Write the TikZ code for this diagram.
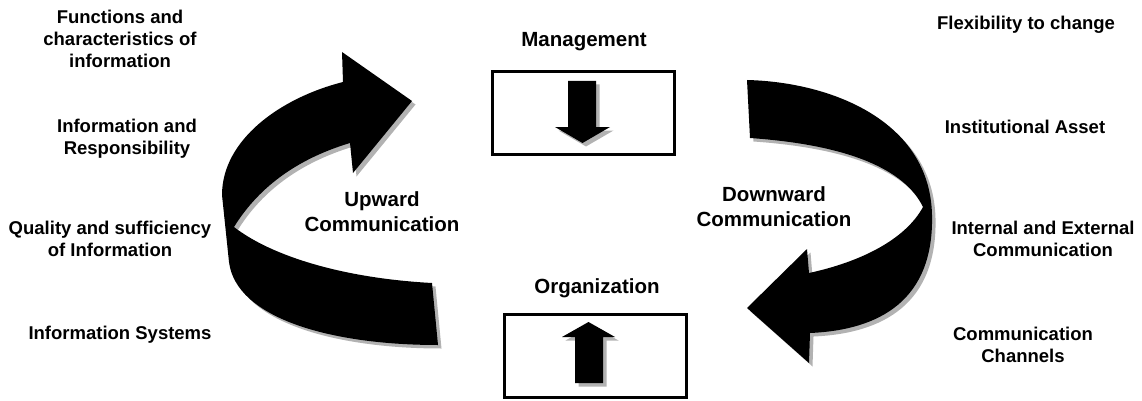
\documentclass[tikz,border=0pt]{standalone}
\usepackage{fontspec}
\setmainfont{Liberation Sans}
\usepackage{tikz}

\begin{document}
\begin{tikzpicture}[x=1pt,y=-1pt,
  item/.style={align=center,font=\fontsize{18.5}{22}\selectfont\bfseries},
  flow/.style={align=center,font=\fontsize{20.5}{25}\selectfont\bfseries},
  box/.style={draw,line width=3pt,minimum width=182pt,minimum height=83pt,inner sep=0pt}]
\useasboundingbox (0,0) rectangle (1142,401);

% left column
\node[item] (func) at (120,39) {Functions and\\characteristics of\\information};
\node[item] (resp) at (127,139) {Information and\\Responsibility};
\node[item] (qual) at (110,239) {Quality and sufficiency\\of Information};
\node[item] (isys) at (120,335) {Information Systems};

% right column
\node[item] (flex) at (1026,25) {Flexibility to change};
\node[item] (asset) at (1025,127) {Institutional Asset};
\node[item] (intext) at (1043,239) {Internal and External\\Communication};
\node[item] (chan) at (1023,345) {Communication\\Channels};

% middle
\node[flow,anchor=base] (mgmt) at (584,47) {Management};
\node[flow,anchor=base] (org) at (597,293) {Organization};
\node[flow] (up) at (382,212) {Upward\\Communication};
\node[flow] (down) at (774,207) {Downward\\Communication};

\node[box] (mgmtbox) at (583.5,113) {};
\node[box] (orgbox) at (595.5,355.5) {};

% arrows with their grey shadow
\foreach \d/\c in {3.5/black!30, 0/black} {
  \fill[\c,shift={(\d,\d)}] (432,283) .. controls (340,278) and (270,255) .. (234,227)
    .. controls (260,185) and (300,158) .. (350,143)
    -- (353,173) -- (412,101) -- (342,52) -- (343,82)
    .. controls (280,98) and (222,140) .. (222,195)
    -- (229,262) .. controls (236,318) and (330,345) .. (438,345) -- cycle;
  \fill[\c,shift={(\d,\d)}] (747,80) .. controls (830,82) and (930,120) .. (932,215)
    .. controls (934,300) and (880,330) .. (810,333)
    -- (809,363) -- (747,308) -- (807,249) -- (809,273)
    .. controls (860,262) and (905,240) .. (923,207)
    .. controls (905,170) and (850,145) .. (750,138) -- cycle;
  \fill[\c,shift={(\d,\d)}] (568,81) -- (596,81) -- (596,127) -- (610,127)
    -- (582.5,143) -- (555,127) -- (568,127) -- cycle;
  \fill[\c,shift={(\d,\d)}] (575,383) -- (603,383) -- (603,337) -- (615,337)
    -- (588.5,322) -- (562,337) -- (575,337) -- cycle;
}
\end{tikzpicture}
\end{document}
